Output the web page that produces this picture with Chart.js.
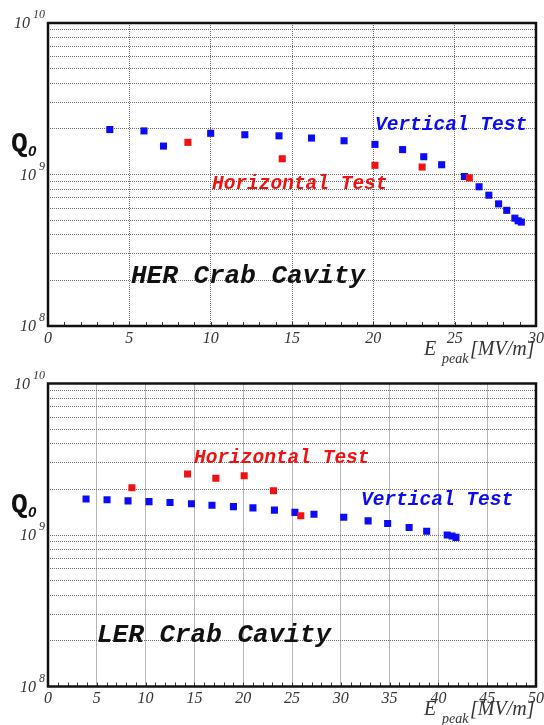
<!DOCTYPE html>
<html>
<head>
<meta charset="utf-8">
<script src="https://cdn.jsdelivr.net/npm/chart.js@4.4.1/dist/chart.umd.min.js"></script>
<style>
  body { margin: 0; background: #fff; }
  .panel { position: absolute; left: 0; }
  #her { top: 0; }
  #ler { top: 360px; }
</style>
</head>
<body>
<canvas id="her" class="panel" width="544" height="370"></canvas>
<canvas id="ler" class="panel" width="544" height="365"></canvas>
<script>
// HER crab cavity, E_peak [MV/m] vs Q0
const herVerticalE = [3.8, 5.9, 7.1, 10.0, 12.1, 14.2, 16.2, 18.2, 20.1, 21.8, 23.1, 24.2, 25.6, 26.5, 27.1, 27.7, 28.2, 28.7, 28.9, 29.1];
const herVerticalQ = [1.98e9, 1.94e9, 1.54e9, 1.87e9, 1.83e9, 1.80e9, 1.74e9, 1.67e9, 1.58e9, 1.46e9, 1.31e9, 1.16e9, 9.7e8, 8.3e8, 7.3e8, 6.4e8, 5.8e8, 5.15e8, 4.95e8, 4.85e8];
const herHorizontalE = [8.6, 14.4, 20.1, 23.0, 25.9];
const herHorizontalQ = [1.63e9, 1.27e9, 1.15e9, 1.12e9, 9.5e8];

// LER crab cavity
const lerVerticalE = [3.9, 6.05, 8.2, 10.35, 12.5, 14.7, 16.8, 19.0, 21.0, 23.2, 25.3, 27.25, 30.3, 32.8, 34.8, 37.0, 38.8, 40.9, 41.4, 41.8];
const lerVerticalQ = [1.73e9, 1.71e9, 1.68e9, 1.66e9, 1.64e9, 1.61e9, 1.57e9, 1.54e9, 1.51e9, 1.46e9, 1.41e9, 1.37e9, 1.31e9, 1.24e9, 1.19e9, 1.12e9, 1.06e9, 1.0e9, 9.85e8, 9.65e8];
const lerHorizontalE = [8.6, 14.3, 17.2, 20.1, 23.1, 25.9];
const lerHorizontalQ = [2.05e9, 2.53e9, 2.37e9, 2.46e9, 1.96e9, 1.34e9];

// axes
const herETicks = [0, 5, 10, 15, 20, 25, 30];
const lerETicks = [0, 5, 10, 15, 20, 25, 30, 35, 40, 45, 50];
const qGridTicks = [1e8, 2e8, 3e8, 4e8, 5e8, 6e8, 7e8, 8e8, 9e8, 1e9, 2e9, 3e9, 4e9, 5e9, 6e9, 7e9, 8e9, 9e9, 1e10];
const qDecades = [8, 9, 10];

const BLUE = '#0b0bf5';
const RED = '#f01212';
const GRID = '#6e6e6e';
const MONO = '"Liberation Mono", "DejaVu Sans Mono", monospace';
const SERIF = '"Liberation Serif", "DejaVu Serif", serif';

const toPoints = (xs, ys) => xs.map((x, i) => ({ x: x, y: ys[i] }));

const makeDecor = (panel) => ({
  id: 'decor',
  afterDraw(chart) {
    const { ctx, chartArea: a, scales: { x, y } } = chart;
    ctx.save();

    // minor ticks pointing inward from the bottom axis
    ctx.strokeStyle = '#333';
    ctx.lineWidth = 1;
    x.ticks.forEach(t => {
      const px = Math.round(x.getPixelForValue(t.value)) + 0.5;
      ctx.beginPath();
      ctx.moveTo(px, a.bottom);
      ctx.lineTo(px, a.bottom - 4);
      ctx.stroke();
    });

    // frame
    ctx.strokeStyle = '#111';
    ctx.lineWidth = 2.5;
    ctx.strokeRect(a.left, a.top, a.right - a.left, a.bottom - a.top);

    // 10^n labels
    ctx.fillStyle = '#333';
    ctx.textBaseline = 'middle';
    qDecades.forEach(exp => {
      const py = y.getPixelForValue(Math.pow(10, exp));
      const sup = String(exp);
      ctx.font = 'italic 12px ' + SERIF;
      const supW = ctx.measureText(sup).width;
      ctx.textAlign = 'left';
      const supX = 45 - supW;
      ctx.fillText(sup, supX, py - 8);
      ctx.font = 'italic 16px ' + SERIF;
      ctx.textAlign = 'right';
      ctx.fillText('10', supX - 3, py + 1);
    });

    // Q0
    ctx.textBaseline = 'alphabetic';
    ctx.textAlign = 'left';
    ctx.fillStyle = '#111';
    ctx.font = 'bold 28px ' + MONO;
    ctx.fillText('Q', 11, a.top + 128);
    ctx.font = 'bold italic 15px "Liberation Sans", sans-serif';
    ctx.fillText('0', 28, a.top + 133);

    // annotations
    panel.notes.forEach(n => {
      ctx.fillStyle = n.color;
      ctx.font = 'bold italic ' + n.size + 'px ' + MONO;
      ctx.fillText(n.text, n.left, n.baseline);
    });

    // x axis title
    const base = a.bottom + 28.5;
    ctx.fillStyle = '#333';
    ctx.font = 'italic 20px ' + SERIF;
    ctx.fillText('E', 424, base);
    ctx.font = 'italic 14px ' + SERIF;
    ctx.fillText('peak', 442, base + 8);
    ctx.font = 'italic 20px ' + SERIF;
    ctx.fillText('[MV/m]', 470, base);
    ctx.restore();
  }
});

const makePanel = (canvasId, panel) => {
  const ctx = document.getElementById(canvasId).getContext('2d');
  const xMax = panel.eTicks[panel.eTicks.length - 1];
  return new Chart(ctx, {
    type: 'scatter',
    data: {
      datasets: [
        {
          label: 'Horizontal Test',
          data: toPoints(panel.horizontalE, panel.horizontalQ),
          backgroundColor: RED,
          borderWidth: 0,
          pointStyle: 'rect',
          pointRadius: 5,
          order: 0
        },
        {
          label: 'Vertical Test',
          data: toPoints(panel.verticalE, panel.verticalQ),
          backgroundColor: BLUE,
          borderWidth: 0,
          pointStyle: 'rect',
          pointRadius: 5,
          order: 1
        }
      ]
    },
    options: {
      responsive: false,
      animation: false,
      layout: { padding: { left: 0, top: panel.top, right: panel.right, bottom: 0 } },
      plugins: { legend: { display: false }, tooltip: { enabled: false } },
      scales: {
        x: {
          type: 'linear',
          min: 0,
          max: xMax,
          afterBuildTicks: scale => {
            const ticks = [];
            for (let v = 0; v <= xMax; v++) ticks.push({ value: v });
            scale.ticks = ticks;
          },
          afterFit: scale => { scale.height = panel.xAxisHeight; },
          ticks: {
            autoSkip: false,
            maxRotation: 0,
            padding: 0,
            color: '#333',
            font: { family: SERIF, style: 'italic', size: 16 },
            callback: v => panel.eTicks.includes(v) ? String(v) : ''
          },
          grid: {
            drawTicks: true,
            tickLength: 3,
            tickColor: 'rgba(0,0,0,0)',
            lineWidth: 1,
            color: c => (c.tick && panel.eTicks.includes(c.tick.value) && c.tick.value > 0 && c.tick.value < xMax) ? GRID : 'rgba(0,0,0,0)'
          },
          border: { display: false, dash: [1, 1] }
        },
        y: {
          type: 'logarithmic',
          min: 1e8,
          max: 1e10,
          afterBuildTicks: scale => { scale.ticks = qGridTicks.map(v => ({ value: v })); },
          afterFit: scale => { scale.width = 48; },
          ticks: { display: false },
          grid: {
            drawTicks: false,
            lineWidth: 1,
            color: c => (c.tick && c.tick.value > 1e8 && c.tick.value < 1e10) ? GRID : 'rgba(0,0,0,0)'
          },
          border: { display: false, dash: [1, 1] }
        }
      }
    },
    plugins: [makeDecor(panel)]
  });
};

makePanel('her', {
  verticalE: herVerticalE, verticalQ: herVerticalQ,
  horizontalE: herHorizontalE, horizontalQ: herHorizontalQ,
  eTicks: herETicks,
  top: 23, right: 7, xAxisHeight: 44,
  notes: [
    { text: 'Vertical Test', color: BLUE, size: 19.5, left: 375, baseline: 130 },
    { text: 'Horizontal Test', color: RED, size: 19.5, left: 212, baseline: 189 },
    { text: 'HER Crab Cavity', color: '#111', size: 26, left: 131, baseline: 283 }
  ]
});

makePanel('ler', {
  verticalE: lerVerticalE, verticalQ: lerVerticalQ,
  horizontalE: lerHorizontalE, horizontalQ: lerHorizontalQ,
  eTicks: lerETicks,
  top: 23.5, right: 8, xAxisHeight: 38.5,
  notes: [
    { text: 'Horizontal Test', color: RED, size: 19.5, left: 194, baseline: 103 },
    { text: 'Vertical Test', color: BLUE, size: 19.5, left: 361, baseline: 145 },
    { text: 'LER Crab Cavity', color: '#111', size: 26, left: 97, baseline: 282 }
  ]
});
</script>
</body>
</html>
